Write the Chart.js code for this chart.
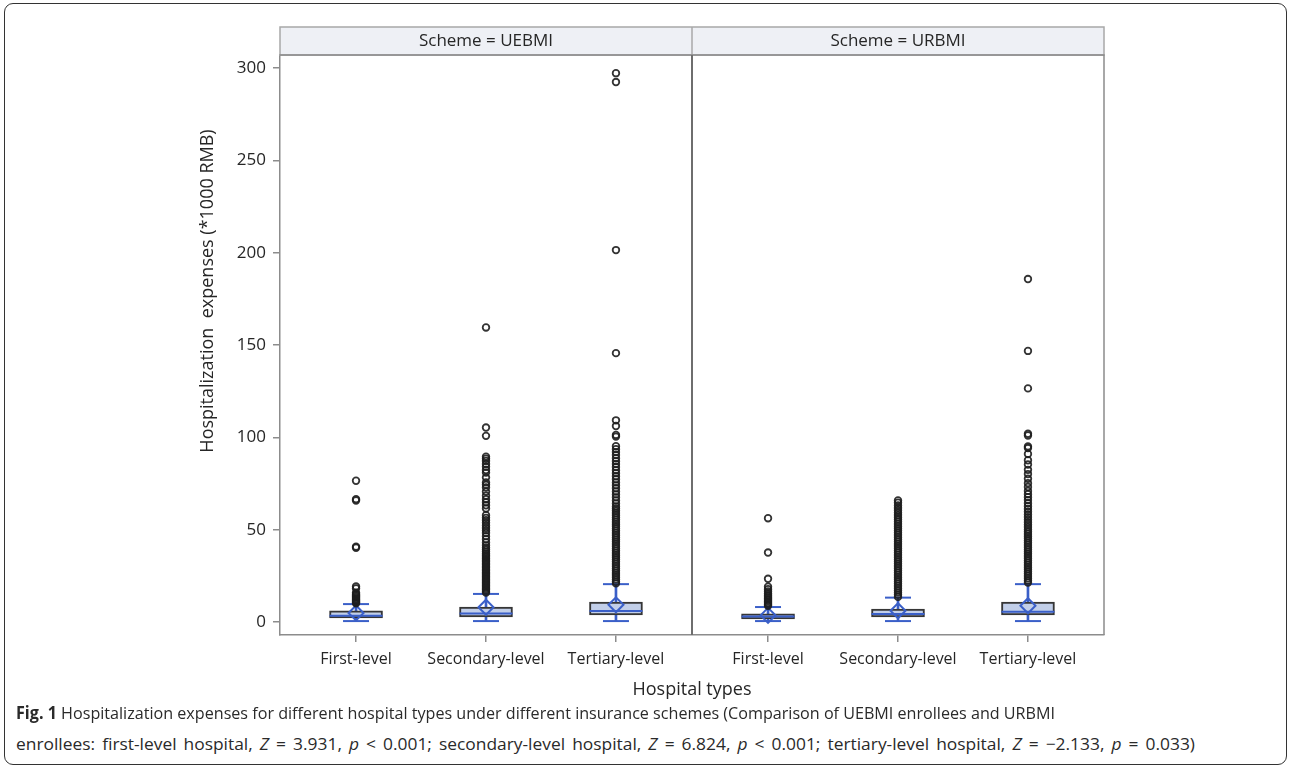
<!DOCTYPE html>
<html><head><meta charset="utf-8">
<script src="https://cdn.jsdelivr.net/npm/chart.js@4.4.1/dist/chart.umd.min.js"></script>
<style>
html,body{margin:0;padding:0;background:#fff;}
#wrap{position:relative;width:1292px;height:769px;overflow:hidden;}
#frame{position:absolute;left:4px;top:3px;width:1281px;height:760px;border:1.5px solid #333;border-radius:9px;}
canvas{position:absolute;left:0;top:0;}
.cap{position:absolute;left:16px;font-family:'Open Sans',sans-serif;font-size:17px;color:#2a2a2a;white-space:nowrap;transform-origin:0 50%;}
</style></head>
<body><div id="wrap"><div id="frame"></div><canvas id="c" width="1292" height="705"></canvas>
<div class="cap" id="cap1" style="top:701px"><b>Fig. 1</b> Hospitalization expenses for different hospital types under different insurance schemes (Comparison of UEBMI enrollees and URBMI</div>
<div class="cap" id="cap2" style="top:732px">enrollees: first-level hospital, <i>Z</i> = 3.931, <i>p</i> &lt; 0.001; secondary-level hospital, <i>Z</i> = 6.824, <i>p</i> &lt; 0.001; tertiary-level hospital, <i>Z</i> = &minus;2.133, <i>p</i> = 0.033)</div>
</div>
<script>
// ---------- data ----------
const categories = ['First-level', 'Secondary-level', 'Tertiary-level'];
const schemes = ['UEBMI', 'URBMI'];
const yTickValues = [0, 50, 100, 150, 200, 250, 300];

const uebmiLow    = [0.5, 0.5, 0.5];
const uebmiQ1     = [2.2, 2.7, 3.8];
const uebmiMedian = [3.4, 4.6, 6.0];
const uebmiQ3     = [6.0, 8.1, 10.8];
const uebmiHigh   = [9.7, 15.2, 20.5];
const uebmiMean   = [4.9, 8.0, 9.3];

const urbmiLow    = [0.5, 0.5, 0.5];
const urbmiQ1     = [1.6, 2.7, 3.8];
const urbmiMedian = [3.0, 4.3, 5.6];
const urbmiQ3     = [4.4, 7.0, 10.8];
const urbmiHigh   = [8.1, 13.2, 20.5];
const urbmiMean   = [3.6, 6.1, 8.8];

const uebmiFirstOut = [76.5, 66.5, 65.8, 40.8, 40.2, 19.2, 18.2, 15.8, 15.0, 14.4, 13.8, 13.2, 12.6, 12.0, 11.5, 11.0, 10.5, 10.1];
const uebmiSecondOut = [159.5, 105.3, 100.8, 89.5, 88.4, 87.2, 85.6, 84.1, 82.3, 80.9, 78.2, 75.6, 74.3, 72.8, 70.6, 68.4, 66.5, 64.8, 63.2, 61.5, 57.8, 56.4, 55.1, 53.7, 52.3, 50.9, 49.6, 48.2, 46.5, 44.8, 43.1, 41.5, 40.2, 39.1, 38.0, 37.0, 36.1, 35.2, 34.3, 33.4, 32.6, 31.8, 31.0, 30.2, 29.4, 28.6, 27.8, 27.0, 26.2, 25.4, 24.6, 23.8, 23.0, 22.2, 21.4, 20.6, 19.8, 19.0, 18.2, 17.4, 16.6, 15.9];
const uebmiThirdOut = [297.2, 292.4, 201.4, 145.6, 109.2, 106.1, 101.3, 100.4, 95.2, 93.6, 92.0, 90.4, 88.7, 87.1, 85.5, 83.9, 82.2, 80.6, 78.9, 77.3, 75.6, 74.0, 72.4, 70.7, 69.1, 67.5, 65.8, 64.2, 62.6, 61.4, 60.2, 59.0, 57.8, 56.6, 55.4, 54.2, 53.0, 51.8, 50.6, 49.4, 48.2, 47.0, 45.8, 44.6, 43.4, 42.2, 41.0, 39.8, 38.6, 37.4, 36.2, 35.0, 33.8, 32.6, 31.4, 30.2, 29.0, 27.8, 26.6, 25.4, 24.2, 23.0, 21.8, 20.9];

const urbmiFirstOut = [56.2, 37.6, 23.4, 19.1, 17.8, 16.6, 15.5, 14.5, 13.6, 12.7, 11.9, 11.1, 10.3, 9.5, 8.8];
const urbmiSecondOut = [65.8, 64.6, 63.1, 61.8, 60.5, 59.2, 57.9, 56.7, 55.5, 54.3, 53.1, 51.9, 50.7, 49.5, 48.3, 47.1, 45.9, 44.7, 43.5, 42.3, 41.1, 39.9, 38.7, 37.5, 36.3, 35.1, 33.9, 32.7, 31.5, 30.3, 29.1, 27.9, 26.7, 25.5, 24.3, 23.1, 21.9, 20.7, 19.5, 18.3, 17.1, 15.9, 14.7, 13.6];
const urbmiThirdOut = [185.7, 146.8, 126.5, 101.9, 101.0, 95.1, 94.2, 91.0, 87.6, 85.3, 82.4, 80.1, 77.6, 75.2, 73.1, 71.0, 69.2, 67.6, 66.0, 64.3, 62.7, 61.2, 59.7, 58.2, 56.8, 55.4, 54.0, 52.7, 51.4, 50.1, 48.9, 47.7, 46.5, 45.3, 44.1, 42.9, 41.7, 40.5, 39.3, 38.1, 36.9, 35.7, 34.5, 33.3, 32.1, 30.9, 29.7, 28.5, 27.3, 26.1, 24.9, 23.7, 22.5, 21.4];

// ---------- layout helpers ----------
const panelWidth = 3.17;
const panelPad = 0.585;
const xMin = 1 - panelPad;
const xMax = xMin + panelWidth * schemes.length;
const panelSplit = xMin + panelWidth;
const xPos = (p, i) => 1 + i + p * panelWidth;

const stats = [
  {low: uebmiLow, q1: uebmiQ1, med: uebmiMedian, q3: uebmiQ3, high: uebmiHigh, mean: uebmiMean, out: [uebmiFirstOut, uebmiSecondOut, uebmiThirdOut]},
  {low: urbmiLow, q1: urbmiQ1, med: urbmiMedian, q3: urbmiQ3, high: urbmiHigh, mean: urbmiMean, out: [urbmiFirstOut, urbmiSecondOut, urbmiThirdOut]}
];

const boxData = [], whiskerData = [], capData = [], medianData = [], meanData = [], outData = [];
stats.forEach((s, p) => {
  categories.forEach((c, i) => {
    const x = xPos(p, i);
    boxData.push({x, y: [s.q1[i], s.q3[i]]});
    whiskerData.push({x, y: [s.low[i], s.high[i]]});
    capData.push({x, y: s.low[i]}, {x, y: s.high[i]});
    medianData.push({x, y: s.med[i]});
    meanData.push({x, y: s.mean[i]});
    s.out[i].forEach(v => outData.push({x, y: v}));
  });
});
const tickPositions = [];
const tickLabels = [];
schemes.forEach((s, p) => categories.forEach((c, i) => { tickPositions.push(xPos(p, i)); tickLabels.push(c); }));

const BLUE = '#3a5fc8';
const FONT = "'Open Sans', sans-serif";
const TXT = '#262626';
const AXIS = '#8c8c8c';

const facetPlugin = {
  id: 'facet',
  beforeDatasetsDraw(chart) {
    const {ctx, chartArea: a, scales: {x}} = chart;
    const mid = x.getPixelForValue(panelSplit);
    const stripTop = 27;
    ctx.save();
    ctx.fillStyle = '#eef0f5';
    ctx.fillRect(a.left, stripTop, a.right - a.left, a.top - stripTop);
    ctx.strokeStyle = '#a8a8a8';
    ctx.lineWidth = 1.5;
    ctx.strokeRect(a.left, stripTop, a.right - a.left, a.top - stripTop);
    ctx.beginPath(); ctx.moveTo(mid, stripTop); ctx.lineTo(mid, a.top); ctx.stroke();
    // plot frame top/right
    ctx.strokeStyle = AXIS;
    ctx.beginPath(); ctx.moveTo(a.left, a.top); ctx.lineTo(a.right, a.top); ctx.lineTo(a.right, a.bottom); ctx.stroke();
    // panel divider
    ctx.strokeStyle = '#6e6e6e'; ctx.lineWidth = 2;
    ctx.beginPath(); ctx.moveTo(mid, a.top); ctx.lineTo(mid, a.bottom); ctx.stroke();
    // strip labels
    ctx.fillStyle = TXT;
    ctx.font = "17px " + FONT;
    ctx.textAlign = 'center'; ctx.textBaseline = 'middle';
    ctx.fillText('Scheme = ' + schemes[0], (a.left + mid) / 2, (stripTop + a.top) / 2);
    ctx.fillText('Scheme = ' + schemes[1], (mid + a.right) / 2, (stripTop + a.top) / 2);
    // y title
    ctx.translate(208, 291);
    ctx.rotate(-Math.PI / 2);
    ctx.font = "18px " + FONT;
    ctx.fillText('Hospitalization  expenses (*1000 RMB)', 0, 0);
    ctx.restore();
  }
};

new Chart(document.getElementById('c'), {
  type: 'bar',
  data: {
    datasets: [
      {type: 'bar', data: whiskerData, backgroundColor: BLUE, barThickness: 2, grouped: false, order: 5},
      {type: 'bar', data: boxData, backgroundColor: '#c2cfe9', borderColor: '#363636', borderWidth: 2, borderSkipped: false, barThickness: 53, grouped: false, order: 4},
      {type: 'scatter', data: medianData, pointStyle: 'line', pointRadius: 26.5, pointBorderWidth: 2, pointBorderColor: BLUE, order: 3},
      {type: 'scatter', data: capData, pointStyle: 'line', pointRadius: 13, pointBorderWidth: 2, pointBorderColor: BLUE, order: 3},
      {type: 'scatter', data: meanData, pointStyle: 'rectRot', pointRadius: 7.5, pointBorderWidth: 2, pointBorderColor: BLUE, pointBackgroundColor: 'rgba(0,0,0,0)', order: 2},
      {type: 'scatter', data: outData, pointStyle: 'circle', pointRadius: 3.3, pointBorderWidth: 1.8, pointBorderColor: 'rgba(30,30,30,0.9)', pointBackgroundColor: 'rgba(0,0,0,0)', order: 1}
    ]
  },
  options: {
    responsive: false,
    animation: false,
    devicePixelRatio: 1,
    layout: {padding: {left: 0, top: 55, right: 188, bottom: 0}},
    plugins: {legend: {display: false}, tooltip: {enabled: false}},
    scales: {
      x: {
        type: 'linear', min: xMin, max: xMax, offset: false,
        afterFit(s) { s.height = 70; },
        afterBuildTicks(s) { s.ticks = tickPositions.map(v => ({value: v})); },
        ticks: {callback: (v, i) => tickLabels[i], autoSkip: false, maxRotation: 0, color: TXT, font: {family: FONT, size: 16}, padding: 8},
        grid: {offset: false, drawOnChartArea: false, drawTicks: true, tickLength: 7, color: AXIS, lineWidth: 1.5},
        border: {color: AXIS, width: 1.5},
        title: {display: true, text: 'Hospital types', color: TXT, font: {family: FONT, size: 18}, padding: {top: 0, bottom: 4}}
      },
      y: {
        type: 'linear', min: -7.04, max: 307.04, beginAtZero: false,
        afterFit(s) { s.width = 280; },
        afterBuildTicks(s) { s.ticks = yTickValues.map(v => ({value: v})); },
        ticks: {color: TXT, font: {family: FONT, size: 17}, padding: 7},
        grid: {drawOnChartArea: false, drawTicks: true, tickLength: 7, color: AXIS, lineWidth: 1.5},
        border: {color: AXIS, width: 1.5}
      }
    }
  },
  plugins: [facetPlugin]
});

// fit caption lines: line 1 sets the horizontal scale; line 2 gets a little word spacing, then is scaled to its width
const cap1 = document.getElementById('cap1');
const cap2 = document.getElementById('cap2');
const w1 = cap1.getBoundingClientRect().width;
const k = 1039 / w1;
cap1.style.transform = 'scaleX(' + k + ')';
const w2 = cap2.getBoundingClientRect().width;
const spaces = (cap2.textContent.match(/ /g) || []).length;
const extra = Math.max(0, (1179 / k - w2) / spaces) * 0.4;
cap2.style.wordSpacing = extra + 'px';
const w2b = cap2.getBoundingClientRect().width;
cap2.style.transform = 'scaleX(' + (1179 / w2b) + ')';
</script>
</body></html>
